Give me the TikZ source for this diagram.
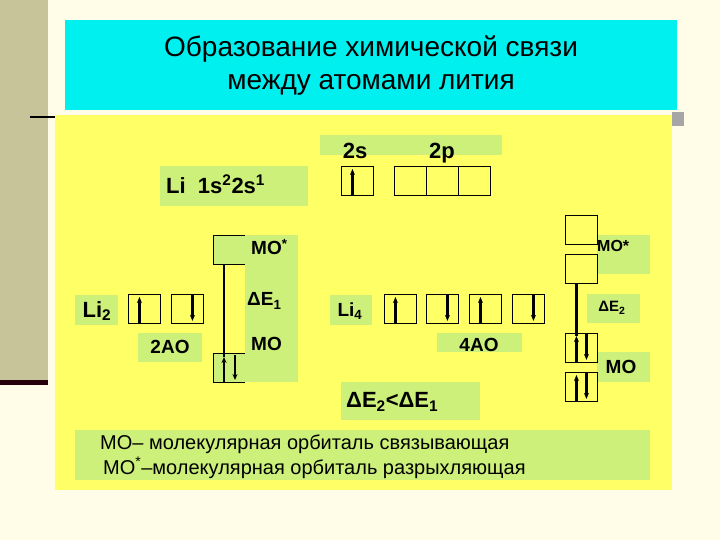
\documentclass[tikz,border=0pt]{standalone}
\usepackage{fontspec}
\setmainfont{Liberation Sans}
\usetikzlibrary{arrows.meta}
\definecolor{cream}{HTML}{FFFDE8}
\definecolor{khaki}{HTML}{C8C49A}
\definecolor{cyanbg}{HTML}{00F0F0}
\definecolor{ylw}{HTML}{FFFF66}
\definecolor{grn}{HTML}{CCF07A}
\tikzset{
 gr/.style={fill=grn,draw=none},
 box/.style={draw=black,line width=0.9pt,minimum width=32pt,minimum height=29pt,inner sep=0pt,anchor=north west},
 lbl/.style={font=\bfseries\fontsize{22}{26}\selectfont,inner sep=0pt},
 lbm/.style={font=\bfseries\fontsize{19}{22}\selectfont,inner sep=0pt},
 upa/.style={line width=2.2pt,-{Stealth[length=6pt,width=5pt]}},
 dna/.style={line width=2.2pt,-{Stealth[length=6pt,width=5pt]}},
}
\begin{document}
\begin{tikzpicture}[x=1pt,y=-1pt]
\useasboundingbox (0,0) rectangle (720,540);
\fill[cream] (0,0) rectangle (720,540);
\fill[khaki] (0,0) rectangle (48,383);
\fill[black!80!purple] (0,380) rectangle (48,385);
\draw[line width=1.5pt] (30,117) -- (56,117);
\fill[gray!70] (672,112) rectangle (684,126);
\fill[cyanbg] (65,20) rectangle (677,110);
\node[font=\fontsize{28}{33}\selectfont,align=center] (title) at (371,66) {Образование химической связи\\между атомами лития};
\fill[ylw] (55,115) rectangle (672,490);
% green highlights
\fill[gr] (160,166) rectangle (308,206);
\fill[gr] (320,135) rectangle (502,155);
\fill[gr] (245,235) rectangle (298,382);
\fill[gr] (213,235) rectangle (245,264);
\fill[gr] (213,353) rectangle (245,382);
\fill[gr] (75,295) rectangle (118,325);
\fill[gr] (138,333) rectangle (202,362);
\fill[gr] (330,295) rectangle (372,325);
\fill[gr] (437,333) rectangle (522,352);
\fill[gr] (597,235) rectangle (650,274);
\fill[gr] (587,294) rectangle (640,323);
\fill[gr] (597,352) rectangle (650,382);
\fill[gr] (341,382) rectangle (480,420);
\fill[gr] (75,430) rectangle (650,480);
% texts
\node[lbl,anchor=west] (li) at (166,184) {Li\ \ 1s\textsuperscript{2}2s\textsuperscript{1}};
\node[lbl] (s2) at (355,151) {2s};
\node[lbl] (p2) at (442,153) {2p};
\node[lbm,anchor=west] (mos1) at (251,247) {MO\textsuperscript{*}};
\node[lbm,anchor=west] (de1) at (247,301) {ΔE\textsubscript{1}};
\node[lbm,anchor=west] (mo1) at (251,344) {MO};
\node[lbl] (li2) at (97,311) {Li\textsubscript{2}};
\node[lbm] (ao2) at (170,347) {2AO};
\node[lbm] (li4) at (350,311) {Li\textsubscript{4}};
\node[lbm] (ao4) at (479,345) {4AO};
\node[anchor=west,inner sep=0pt,font=\bfseries\fontsize{16}{19}\selectfont] (mos2) at (597,246) {MO*};
\node[inner sep=0pt,font=\bfseries\fontsize{15}{18}\selectfont] (de2) at (612,308) {ΔE\textsubscript{2}};
\node[lbm] (mo2) at (621,367) {MO};
\node[lbl,anchor=west] (cmp) at (346,402) {ΔE\textsubscript{2}<ΔE\textsubscript{1}};
\node[anchor=west,font=\fontsize{20}{24}\selectfont,inner sep=0pt] (leg1) at (100,444) {MO– молекулярная орбиталь связывающая};
\node[anchor=west,font=\fontsize{20}{24}\selectfont,inner sep=0pt] (leg2) at (103,468) {MO\textsuperscript{*}–молекулярная орбиталь разрыхляющая};
% Li atom boxes
\node[box] (b2s) at (341,166) {};
\node[box] (p1) at (394,166) {};
\node[box] (p2b) at (426,166) {};
\node[box] (p3) at (458,166) {};
\draw[upa] ([xshift=-5pt]b2s.south) -- ([xshift=-5pt,yshift=-3pt]b2s.north);
% Li2
\node[box] (a1) at (128,294) {};
\node[box] (a2) at (171,294) {};
\draw[upa] ([xshift=-5pt]a1.south) -- ([xshift=-5pt,yshift=-3pt]a1.north);
\draw[dna] ([xshift=5pt]a2.north) -- ([xshift=5pt,yshift=3pt]a2.south);
\draw[line width=0.9pt] (245,235) -- (213,235) -- (213,264) -- (245,264);
\draw[line width=0.9pt] (245,353) -- (213,353) -- (213,382) -- (245,382);
\coordinate (t1) at (224,264);
\coordinate (m1) at (224,357);
\coordinate (m1b) at (224,382);
\draw[line width=2.2pt] (t1) -- (m1);
\draw[upa] (m1b) -- (m1);
\draw[dna] (235,355) -- (235,380);
% Li4
\node[box] (c1) at (384,294) {};
\node[box] (c2) at (426,294) {};
\node[box] (c3) at (469,294) {};
\node[box] (c4) at (512,294) {};
\draw[upa] ([xshift=-5pt]c1.south) -- ([xshift=-5pt,yshift=-3pt]c1.north);
\draw[dna] ([xshift=5pt]c2.north) -- ([xshift=5pt,yshift=3pt]c2.south);
\draw[upa] ([xshift=-5pt]c3.south) -- ([xshift=-5pt,yshift=-3pt]c3.north);
\draw[dna] ([xshift=5pt]c4.north) -- ([xshift=5pt,yshift=3pt]c4.south);
% right MO
\node[box] (r1) at (565,215) {};
\node[box] (r2) at (565,254) {};
\node[box] (r3) at (565,333) {};
\node[box] (r4) at (565,372) {};
\draw[line width=2.2pt] ([xshift=-5pt]r2.south) -- ([xshift=-5pt,yshift=-3pt]r3.north);
\draw[upa] ([xshift=-5pt]r3.south) -- ([xshift=-5pt,yshift=-3pt]r3.north);
\draw[dna] ([xshift=5pt]r3.north) -- ([xshift=5pt,yshift=3pt]r3.south);
\draw[upa] ([xshift=-5pt]r4.south) -- ([xshift=-5pt,yshift=-3pt]r4.north);
\draw[dna] ([xshift=5pt]r4.north) -- ([xshift=5pt,yshift=3pt]r4.south);
\end{tikzpicture}
\end{document}
